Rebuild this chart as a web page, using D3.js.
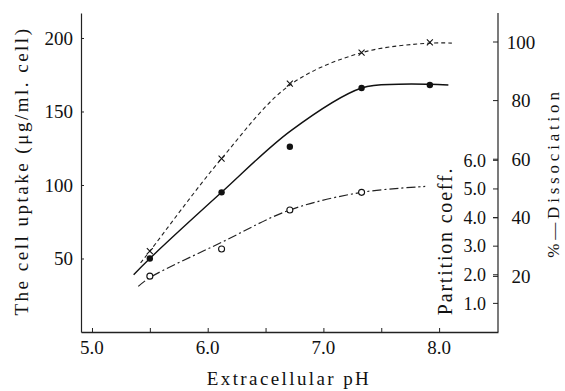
<!DOCTYPE html>
<html>
<head>
<meta charset="utf-8">
<script src="https://cdn.jsdelivr.net/npm/d3@7"></script>
<style>
  body { margin: 0; background: #fff; }
</style>
</head>
<body>
<div id="chart"></div>
<script>
// measured points (cell uptake, µg/ml cell)
var ptPH = [5.5, 6.12, 6.71, 7.33, 7.92];
var crossVals = [55, 118, 169, 190, 197];
var dotVals = [50, 95, 126, 166, 168];
var circleVals = [38, 56.5, 83, 95];

// smooth fitted curves drawn through the points
var dashedPH = [5.42, 5.5, 6.12, 6.71, 7.33, 7.92, 8.11];
var dashedVals = [47, 55, 118, 168, 190, 196.5, 196.5];
var solidPH = [5.36, 5.5, 6.12, 6.72, 7.33, 7.65, 7.92, 8.08];
var solidVals = [39, 50, 95, 137, 166, 168.5, 168.5, 168];
var dashDotPH = [5.4, 5.5, 6.12, 6.71, 7.33, 7.88];
var dashDotVals = [31, 37, 61, 83, 95, 99];

// axis ticks
var xTicks = [5.0, 5.5, 6.0, 6.5, 7.0, 7.5, 8.0];
var xLabels = [5.0, 6.0, 7.0, 8.0];
var uptakeTicks = [50, 100, 150, 200];
var partitionTicks = [1, 2, 3, 4, 5, 6];
var dissocTicks = [20, 40, 60, 80, 100];

var W = 565, H = 391;
var margin = {top: 13, right: 67, bottom: 59, left: 81};
var serif = "'Liberation Serif', 'Times New Roman', serif";
var ink = "#111";

var svg = d3.select("#chart").append("svg")
  .attr("width", W).attr("height", H);

var x = d3.scaleLinear().domain([4.905, 8.509]).range([margin.left, W - margin.right]);
var y = d3.scaleLinear().domain([0, 217]).range([H - margin.bottom, margin.top]);
var yPart = d3.scaleLinear().domain([0, 11.15]).range([H - margin.bottom, margin.top]);
var yDiss = d3.scaleLinear().domain([0, 109.9]).range([335, margin.top]);

var xRight = W - margin.right;

function txt(sel, size, spacing) {
  return sel.style("font-family", serif).style("font-size", size + "px")
    .style("letter-spacing", (spacing || 0) + "px").attr("fill", ink);
}

// bottom axis
var xAxis = svg.append("g")
  .attr("transform", "translate(0," + (H - margin.bottom) + ")")
  .call(d3.axisBottom(x).tickValues(xTicks).tickSizeInner(-4).tickSizeOuter(0).tickFormat(""));
xAxis.select(".domain").attr("stroke", "#222").attr("stroke-width", 1.3);
xAxis.selectAll(".tick line").attr("stroke", "#222");

txt(svg.append("g").selectAll("text").data(xLabels).join("text")
  .attr("x", function(d) { return x(d); })
  .attr("y", H - margin.bottom + 22)
  .attr("text-anchor", "middle")
  .text(function(d) { return d.toFixed(1); }), 19);

// left axis
var yAxis = svg.append("g")
  .attr("transform", "translate(" + margin.left + ",0)")
  .call(d3.axisLeft(y).tickValues(uptakeTicks).tickSizeInner(-3).tickSizeOuter(0).tickPadding(8));
yAxis.select(".domain").attr("stroke", "#222").attr("stroke-width", 1.2);
yAxis.selectAll(".tick line").attr("stroke", "#222");
txt(yAxis.selectAll(".tick text"), 19);

// right axis line
svg.append("line")
  .attr("x1", xRight).attr("x2", xRight)
  .attr("y1", margin.top).attr("y2", H - margin.bottom)
  .attr("stroke", "#222").attr("stroke-width", 1.2);

// partition coefficient scale (labels left of the line)
var part = svg.append("g");
part.selectAll("line").data(partitionTicks).join("line")
  .attr("x1", xRight - 5).attr("x2", xRight)
  .attr("y1", function(d) { return yPart(d); })
  .attr("y2", function(d) { return yPart(d); })
  .attr("stroke", "#222");
txt(part.selectAll("text").data(partitionTicks).join("text")
  .attr("x", xRight - 12)
  .attr("y", function(d) { return yPart(d); })
  .attr("dy", "0.35em")
  .attr("text-anchor", "end")
  .text(function(d) { return d.toFixed(1); }), 18);

// % dissociation scale (labels right of the line)
var diss = svg.append("g");
diss.selectAll("line").data(dissocTicks).join("line")
  .attr("x1", xRight - 5).attr("x2", xRight)
  .attr("y1", function(d) { return yDiss(d); })
  .attr("y2", function(d) { return yDiss(d); })
  .attr("stroke", "#222");
txt(diss.selectAll("text").data(dissocTicks).join("text")
  .attr("x", xRight + 23)
  .attr("y", function(d) { return yDiss(d); })
  .attr("dy", "0.35em")
  .attr("text-anchor", "middle")
  .text(function(d) { return d; }), 19);

// axis titles
txt(svg.append("text")
  .attr("x", 289).attr("y", 385)
  .attr("text-anchor", "middle")
  .text("Extracellular pH"), 19, 2.4);

txt(svg.append("text")
  .attr("transform", "translate(28,171) rotate(-90)")
  .attr("text-anchor", "middle")
  .text("The cell uptake (\u03bcg/ml. cell)"), 19, 2.5);

txt(svg.append("text")
  .attr("transform", "translate(452,241) rotate(-90)")
  .attr("text-anchor", "middle")
  .text("Partition coeff."), 20, 1.8);

txt(svg.append("text")
  .attr("transform", "translate(559,173) rotate(-90)")
  .attr("text-anchor", "middle")
  .text("%\u2014Dissociation"), 17, 3.8);

// curves
var line = d3.line()
  .x(function(d) { return x(d[0]); })
  .y(function(d) { return y(d[1]); })
  .curve(d3.curveCatmullRom.alpha(0.5));

function pairs(a, b) { return a.map(function(v, i) { return [v, b[i]]; }); }

svg.append("path").datum(pairs(dashedPH, dashedVals))
  .attr("fill", "none").attr("stroke", "#222").attr("stroke-width", 1.1)
  .attr("stroke-dasharray", "4,3").attr("d", line);

svg.append("path").datum(pairs(solidPH, solidVals))
  .attr("fill", "none").attr("stroke", ink).attr("stroke-width", 1.4)
  .attr("d", line);

svg.append("path").datum(pairs(dashDotPH, dashDotVals))
  .attr("fill", "none").attr("stroke", "#222").attr("stroke-width", 1.2)
  .attr("stroke-dasharray", "9,3,2,3").attr("d", line);

// markers
svg.append("g").selectAll("path").data(pairs(ptPH, crossVals)).join("path")
  .attr("transform", function(d) { return "translate(" + x(d[0]) + "," + y(d[1]) + ")"; })
  .attr("d", "M-3,-3L3,3M-3,3L3,-3")
  .attr("stroke", ink).attr("stroke-width", 1.1);

svg.append("g").selectAll("circle").data(pairs(ptPH, dotVals)).join("circle")
  .attr("cx", function(d) { return x(d[0]); })
  .attr("cy", function(d) { return y(d[1]); })
  .attr("r", 3.2).attr("fill", ink);

svg.append("g").selectAll("circle").data(pairs(ptPH.slice(0, circleVals.length), circleVals)).join("circle")
  .attr("cx", function(d) { return x(d[0]); })
  .attr("cy", function(d) { return y(d[1]); })
  .attr("r", 3).attr("fill", "#fff").attr("stroke", ink).attr("stroke-width", 1.1);
</script>
</body>
</html>
